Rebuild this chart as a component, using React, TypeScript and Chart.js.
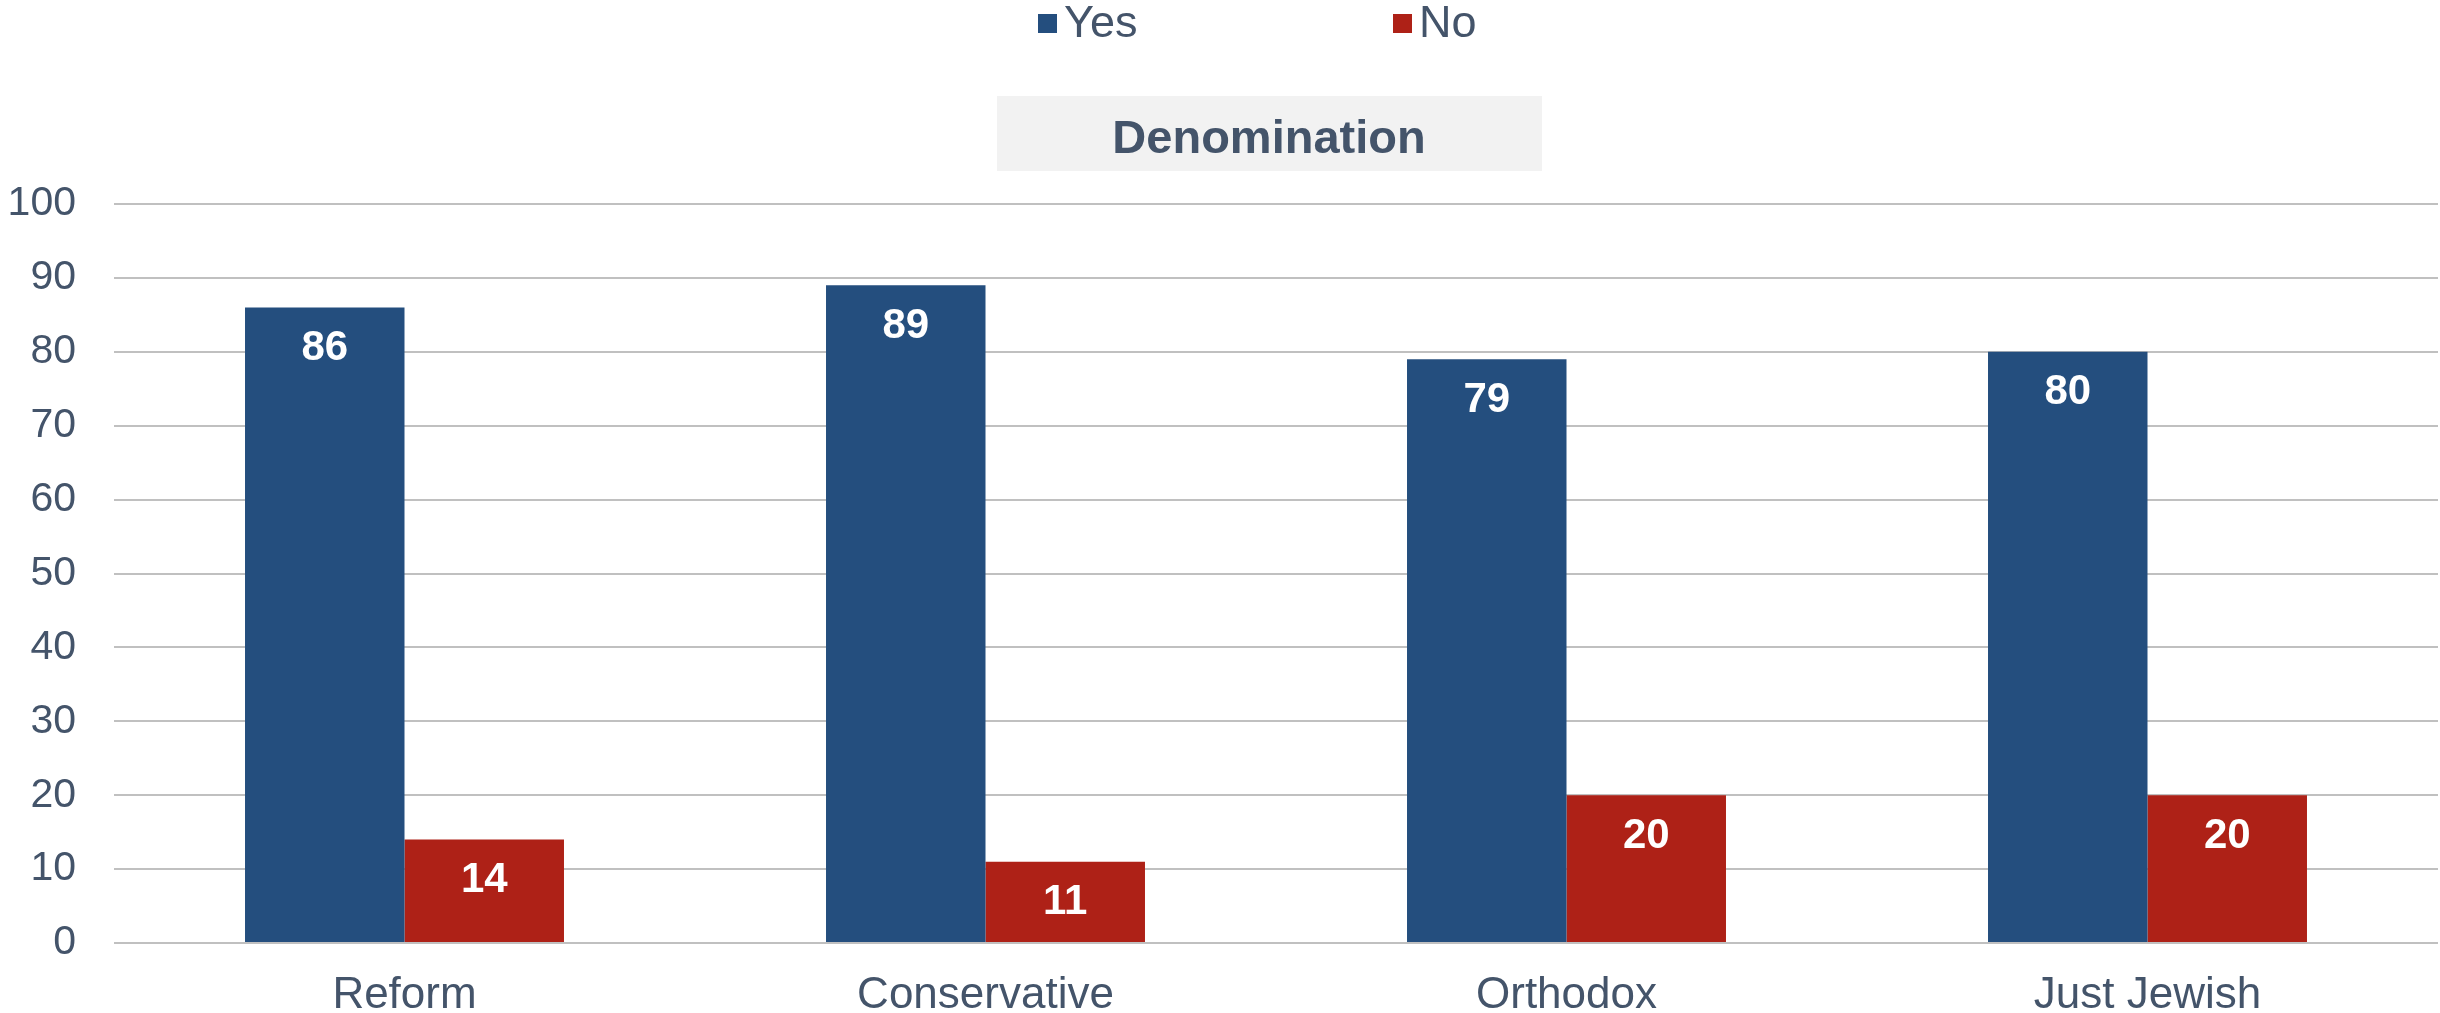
import { useEffect, useRef } from "react";
import { Chart, registerables } from "chart.js";

Chart.register(...registerables);

const categories = ["Reform", "Conservative", "Orthodox", "Just Jewish"];
const yesValues = [86, 89, 79, 80];
const noValues = [14, 11, 20, 20];
const seriesNames = ["Yes", "No"];
const seriesColors = ["#244E7E", "#AE2117"];
const panelTitle = "Denomination";
const yTicks = { min: 0, max: 100, step: 10 };

const FONT = "'Liberation Sans', Arial, 'DejaVu Sans', sans-serif";
const TEXT = "#44546A";

// White value labels just inside the top of each bar
const valueLabels = {
  id: "valueLabels",
  afterDatasetsDraw(chart: any) {
    const ctx = chart.ctx;
    ctx.save();
    ctx.font = `bold 42px ${FONT}`;
    ctx.fillStyle = "#FFFFFF";
    ctx.textAlign = "center";
    ctx.textBaseline = "middle";
    chart.data.datasets.forEach((ds: any, i: number) => {
      const meta = chart.getDatasetMeta(i);
      meta.data.forEach((el: any, j: number) => {
        ctx.fillText(String(ds.data[j]), el.x, el.y + 41);
      });
    });
    ctx.restore();
  },
};

// Series legend on top and the grey panel header above the plot
const headerPlugin = {
  id: "header",
  afterDraw(chart: any) {
    const ctx = chart.ctx;
    ctx.save();

    // legend
    const itemX = [1038, 1393];
    chart.data.datasets.forEach((ds: any, i: number) => {
      const x = itemX[i];
      ctx.fillStyle = ds.backgroundColor;
      ctx.fillRect(x, 14, 19, 19);
      ctx.fillStyle = TEXT;
      ctx.font = `45px ${FONT}`;
      ctx.textAlign = "left";
      ctx.textBaseline = "middle";
      ctx.fillText(ds.label, x + 26, 25);
    });

    // panel title box
    ctx.fillStyle = "#F2F2F2";
    ctx.fillRect(997, 96, 545, 75);
    ctx.fillStyle = TEXT;
    ctx.font = `bold 47px ${FONT}`;
    ctx.textAlign = "center";
    ctx.textBaseline = "middle";
    ctx.fillText(panelTitle, 1269, 140);

    ctx.restore();
  },
};

export default function App() {
  const canvasRef = useRef<HTMLCanvasElement | null>(null);

  useEffect(() => {
    document.body.style.margin = "0";
    document.body.style.overflow = "hidden";
    const canvas = canvasRef.current;
    if (!canvas) return;

    const chart = new Chart(canvas, {
      type: "bar",
      data: {
        labels: categories,
        datasets: [
          {
            label: seriesNames[0],
            data: yesValues,
            backgroundColor: seriesColors[0],
            categoryPercentage: 0.549,
            barPercentage: 1.0,
          },
          {
            label: seriesNames[1],
            data: noValues,
            backgroundColor: seriesColors[1],
            categoryPercentage: 0.549,
            barPercentage: 1.0,
          },
        ],
      },
      options: {
        responsive: false,
        animation: false,
        devicePixelRatio: 1,
        layout: { padding: { top: 204, right: 2, left: 0, bottom: 0 } },
        plugins: {
          legend: { display: false },
          title: { display: false },
          tooltip: { enabled: false },
        },
        scales: {
          x: {
            grid: { display: false, drawTicks: false },
            border: { display: false },
            ticks: {
              color: TEXT,
              font: { family: FONT, size: 44 },
              padding: 26,
            },
            afterFit(axis: any) {
              axis.height = 70;
            },
          },
          y: {
            min: yTicks.min,
            max: yTicks.max,
            grid: { color: "#C0C0C0", lineWidth: 2, drawTicks: false },
            border: { display: false },
            ticks: {
              stepSize: yTicks.step,
              color: TEXT,
              font: { family: FONT, size: 41 },
              padding: 38,
            },
            afterFit(axis: any) {
              axis.width = 114;
            },
          },
        },
      },
      plugins: [valueLabels, headerPlugin],
    });

    return () => chart.destroy();
  }, []);

  return (
    <div style={{ width: 2440, height: 1013 }}>
      <canvas ref={canvasRef} width={2440} height={1013} style={{ display: "block" }} />
    </div>
  );
}
